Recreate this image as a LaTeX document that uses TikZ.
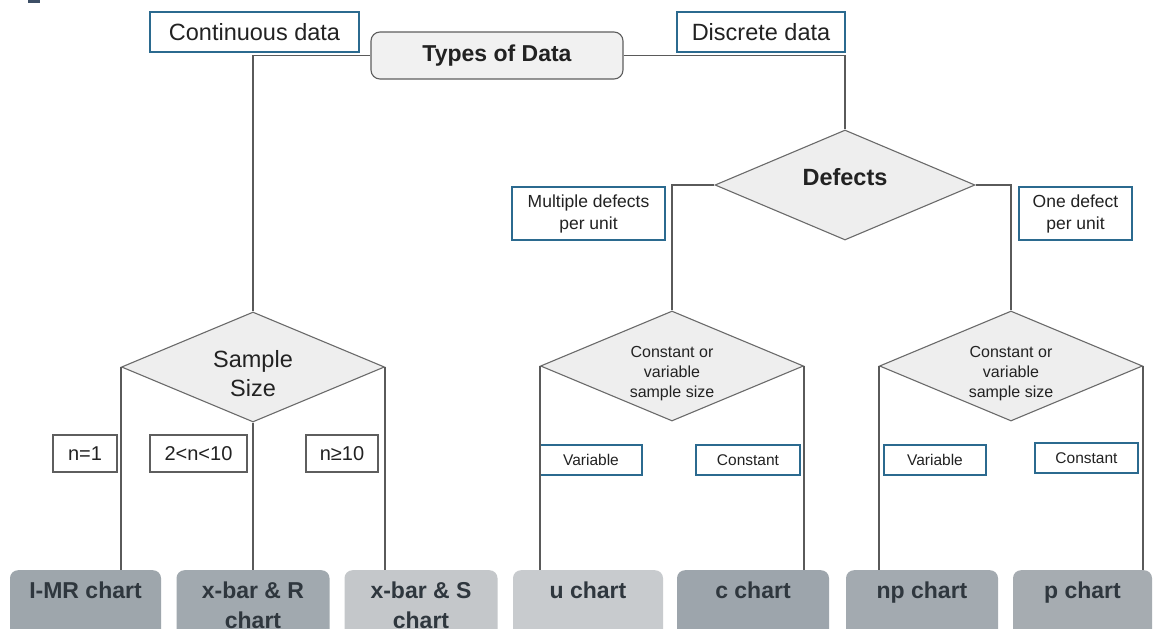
\documentclass[tikz,border=0pt]{standalone}
\usepackage{fontspec}
\setmainfont{Liberation Sans}
\usetikzlibrary{shapes.geometric,calc}

\definecolor{bluebd}{HTML}{2B6A8F}
\definecolor{graybd}{HTML}{5E5E5E}
\definecolor{linecol}{HTML}{5A5A5A}
\definecolor{diafill}{HTML}{EEEEEE}
\definecolor{diabd}{HTML}{6A6A6A}
\definecolor{typefill}{HTML}{F1F1F1}
\definecolor{txtdark}{HTML}{222222}
\definecolor{charttext}{HTML}{2F373E}
\definecolor{cImr}{HTML}{9EA6AC}
\definecolor{cXr}{HTML}{A1A9AF}
\definecolor{cXs}{HTML}{C4C7CA}
\definecolor{cU}{HTML}{C8CBCE}
\definecolor{cC}{HTML}{9DA5AC}
\definecolor{cNp}{HTML}{A3AAB0}
\definecolor{cP}{HTML}{A6ACB1}
\definecolor{corner}{HTML}{3D4F66}

\newcommand\fsz[2]{\fontsize{#1}{#2}\selectfont}

\begin{document}
\begin{tikzpicture}[x=1pt,y=-1pt,
  tag/.style={draw=bluebd, line width=1.1pt, fill=white, inner sep=0pt, text=txtdark},
  gtag/.style={draw=graybd, line width=1.1pt, fill=white, inner sep=0pt, text=txtdark, font=\fsz{20}{24}, minimum height=37pt},
  dia/.style={diamond, draw=diabd, fill=diafill, line width=1.1pt, inner sep=0pt, aspect=2.39, minimum width=263pt, minimum height=110pt},
  diatxt/.style={inner sep=0pt, align=center, text=txtdark},
  chart/.style={rounded corners=8pt, inner sep=0pt, anchor=north, minimum height=80pt},
  charttxt/.style={inner sep=0pt, anchor=north, align=center, text=charttext, font=\bfseries\fsz{23}{30}},
  conn/.style={draw=linecol, line width=1.2pt},
  vc/.style={tag, font=\fsz{15.5}{19}, minimum height=30pt}
]
\clip (0,0) rectangle (1157,629);
\fill[white] (0,0) rectangle (1157,629);
\fill[corner] (28,0) rectangle (40,2.5);

% top row
\node[tag, minimum width=209pt, minimum height=40pt, font=\fsz{23.5}{28}] (cont) at (254.5,32) {Continuous data};
\node[tag, minimum width=168pt, minimum height=40pt, font=\fsz{23.5}{28}] (disc) at (761,32) {Discrete data};
\node[draw=graybd, fill=typefill, line width=1.1pt, rounded corners=9pt, inner sep=0pt,
      minimum width=252pt, minimum height=47pt, text=txtdark, font=\bfseries\fsz{23}{28}] (types) at (497,55.5) {Types of Data};

% decisions
\node[dia, minimum width=260pt] (def) at (845,185) {};
\node[diatxt, font=\bfseries\fsz{23.5}{28}] (def-t) at (845,177) {Defects};
\node[dia] (ss) at (253,367) {};
\node[diatxt, font=\fsz{23.5}{29}] (ss-t) at (253,373.5) {Sample\\Size};
\node[dia] (sub1) at (672,366) {};
\node[diatxt, font=\fsz{16}{20}] (sub1-t) at (672,374) {Constant or\\variable\\sample size};
\node[dia] (sub2) at (1011,366) {};
\node[diatxt, font=\fsz{16}{20}] (sub2-t) at (1011,374) {Constant or\\variable\\sample size};

% branch tags
\node[tag, minimum width=153pt, minimum height=53pt, align=center, font=\fsz{17.5}{22}] (multi) at (588.5,213.5) {Multiple defects\\per unit};
\node[tag, minimum width=113pt, minimum height=53pt, align=center, font=\fsz{17.5}{22}] (one) at (1075.5,213.5) {One defect\\per unit};
\node[gtag, minimum width=64pt] (n1) at (85,453.5) {n=1};
\node[gtag, minimum width=97pt] (n2) at (198.5,453.5) {2<n<10};
\node[gtag, minimum width=72pt] (n3) at (342,453.5) {n≥10};
\node[vc, minimum width=102pt] (v1) at (591,460) {Variable};
\node[vc, minimum width=104pt] (c1) at (748,460) {Constant};
\node[vc, minimum width=102pt] (v2) at (935,460) {Variable};
\node[vc, minimum width=103pt] (c2) at (1086.5,458) {Constant};

% chart types
\node[chart, fill=cImr, minimum width=151pt] (imr) at (85.5,570) {};
\node[chart, fill=cXr, minimum width=153pt] (xr) at (253,570) {};
\node[chart, fill=cXs, minimum width=153pt] (xs) at (421,570) {};
\node[chart, fill=cU, minimum width=150pt] (u) at (588,570) {};
\node[chart, fill=cC, minimum width=152pt] (c) at (753,570) {};
\node[chart, fill=cNp, minimum width=152pt] (np) at (922,570) {};
\node[chart, fill=cP, minimum width=139pt] (p) at (1082.5,570) {};
\node[charttxt] (imr-t) at ($(imr.north)+(0,11.5)$) {I-MR chart};
\node[charttxt] (xr-t) at ($(xr.north)+(0,11.5)$) {x-bar \& R\\chart};
\node[charttxt] (xs-t) at ($(xs.north)+(0,11.5)$) {x-bar \& S\\chart};
\node[charttxt] (u-t) at ($(u.north)+(0,11.5)$) {u chart};
\node[charttxt] (c-t) at ($(c.north)+(0,11.5)$) {c chart};
\node[charttxt] (np-t) at ($(np.north)+(0,11.5)$) {np chart};
\node[charttxt] (p-t) at ($(p.north)+(0,11.5)$) {p chart};

% connectors
\draw[conn] (types.west) -| (ss.north);
\draw[conn] (types.east) -| (def.north);
\draw[conn] (def.west) -| (sub1.north);
\draw[conn] (def.east) -| (sub2.north);
\draw[conn] (ss.west) -- (ss.west |- imr.north);
\draw[conn] (ss.south) -- (ss.south |- xr.north);
\draw[conn] (ss.east) -- (ss.east |- xs.north);
\draw[conn] (sub1.west) -- (sub1.west |- u.north);
\draw[conn] (sub1.east) -- (sub1.east |- c.north);
\draw[conn] (sub2.west) -- (sub2.west |- np.north);
\draw[conn] (sub2.east) -- (sub2.east |- p.north);
\end{tikzpicture}
\end{document}
